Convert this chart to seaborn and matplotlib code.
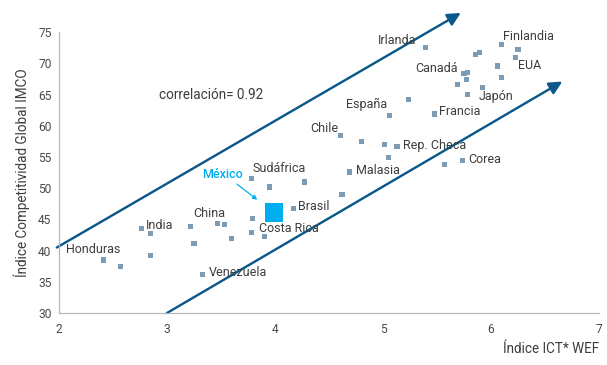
import matplotlib
matplotlib.use('Agg')
import matplotlib.pyplot as plt
import seaborn as sns
import pandas as pd

# Indice ICT (WEF) vs Indice de Competitividad Global IMCO
ict = [2.41, 2.57, 2.76, 2.85, 2.85, 3.22, 3.25, 3.33, 3.47, 3.53,
       3.60, 3.78, 3.79, 3.90, 3.78, 3.95, 3.99, 4.17, 4.27, 4.62,
       4.69, 4.61, 4.80, 5.01, 5.13, 5.05, 5.57, 5.74, 5.06, 5.24,
       5.48, 5.39, 5.86, 5.89, 6.10, 6.25, 6.23, 6.06, 6.10, 5.75,
       5.78, 5.77, 5.69, 5.92, 5.78]
imco = [38.5, 37.4, 43.5, 42.7, 39.2, 43.8, 41.1, 36.1, 44.4, 44.2,
        41.9, 42.9, 45.1, 42.3, 51.5, 50.2, 46.1, 46.7, 51.0, 49.0,
        52.6, 58.4, 57.5, 57.0, 56.7, 55.0, 53.8, 54.4, 61.6, 64.2,
        61.9, 72.5, 71.5, 71.8, 73.1, 72.2, 70.9, 69.6, 67.7, 68.4,
        68.6, 67.4, 66.6, 66.2, 65.1]
pais = ['Honduras', '', 'India', '', '', '', '', 'Venezuela', 'China', '',
        '', '', '', 'Costa Rica', 'Sudáfrica', '', 'México', 'Brasil', '', '',
        'Malasia', 'Chile', '', '', 'Rep. Checa', '', '', 'Corea', 'España', '',
        'Francia', 'Irlanda', '', '', 'Finlandia', '', 'EUA', '', '', 'Canadá',
        '', '', '', 'Japón', '']

# bandas (flechas) alrededor de la tendencia
banda_sup_x = [1.98, 5.72]
banda_sup_y = [40.5, 78.1]
banda_inf_x = [3.0, 6.66]
banda_inf_y = [30.0, 67.1]

df = pd.DataFrame({'ict': ict, 'imco': imco, 'pais': pais})
mex = df[df['pais'] == 'México']
resto = df[df['pais'] != 'México']

sns.set_style('white')
plt.rcParams['font.family'] = ['Roboto', 'DejaVu Sans']

fig = plt.figure(figsize=(607 / 72, 365 / 72), dpi=72)
ax = fig.add_axes([59 / 607, 1 - 313 / 365, 540 / 607, 280.7 / 365])

sns.scatterplot(data=resto, x='ict', y='imco', marker='s', s=26,
                color='#7b9cb4', edgecolor='none', ax=ax, zorder=3)
sns.scatterplot(data=mex, x='ict', y='imco', marker='s', s=340,
                color='#00aeef', edgecolor='none', ax=ax, zorder=3)

# etiquetas: desplazamiento (pt) y alineacion
offsets = {
    'Honduras': (-37, 10, 'left'), 'India': (5, 3, 'left'),
    'China': (-25, 10, 'left'), 'Venezuela': (6, 2, 'left'),
    'Costa Rica': (-5, 8, 'left'), 'Brasil': (5, 2, 'left'),
    'Sudáfrica': (1, 10, 'left'), 'Malasia': (6, 2, 'left'),
    'Chile': (-3, 7, 'right'), 'Rep. Checa': (6, 1, 'left'),
    'Corea': (5, 1, 'left'), 'España': (-2, 11, 'right'),
    'Francia': (4, 3, 'left'), 'Irlanda': (-9, 7, 'right'),
    'Canadá': (-6, 5, 'right'), 'Japón': (-4, -9, 'left'),
    'Finlandia': (1, 8, 'left'), 'EUA': (2, -8, 'left'),
}
for _, r in resto.iterrows():
    if r['pais'] in offsets:
        dx, dy, ha = offsets[r['pais']]
        ax.annotate(r['pais'], (r['ict'], r['imco']), xytext=(dx, dy),
                    textcoords='offset points', ha=ha, va='center',
                    fontsize=12.5, color='#3d3d3d', zorder=4)

mx, my = mex['ict'].iloc[0], mex['imco'].iloc[0]
ax.annotate('México', (mx, my), xytext=(-72, 38), textcoords='offset points',
            ha='left', va='center', fontsize=12.5, color='#00aeef',
            fontweight='medium')
ax.annotate('', (mx, my), xytext=(-37, 28.5), textcoords='offset points',
            arrowprops=dict(arrowstyle='-|>', color='#00aeef', lw=1.2,
                            shrinkA=0, shrinkB=21, mutation_scale=9))

for bx, by in [(banda_sup_x, banda_sup_y), (banda_inf_x, banda_inf_y)]:
    ax.annotate('', xy=(bx[1], by[1]), xytext=(bx[0], by[0]),
                arrowprops=dict(arrowstyle='-|>', color='#0a578a', lw=2.4,
                                shrinkA=0, shrinkB=0, mutation_scale=27),
                annotation_clip=False, zorder=2)

ax.text(2.93, 64.9, 'correlación= 0.92', fontsize=13.5, color='#3d3d3d',
        va='center', ha='left')

ax.set_xlim(2, 7)
ax.set_ylim(30, 75)
ax.set_xticks(range(2, 8))
ax.set_yticks(range(30, 80, 5))
for side in ['top', 'right']:
    ax.spines[side].set_visible(False)
for side in ['left', 'bottom']:
    ax.spines[side].set_color('#b5b5b5')
    ax.spines[side].set_linewidth(1.2)
ax.tick_params(axis='both', direction='out', length=4, width=1,
               color='#b5b5b5', labelsize=12, labelcolor='#4a4a4a')
ax.tick_params(axis='x', pad=6)
ax.set_xlabel('Índice ICT* WEF', loc='right', fontsize=13.5, color='#3d3d3d',
              labelpad=6)
ax.set_ylabel('Índice Competitividad Global IMCO', fontsize=13.5,
              color='#3d3d3d', labelpad=8)

fig.savefig('out.png', dpi=72)
